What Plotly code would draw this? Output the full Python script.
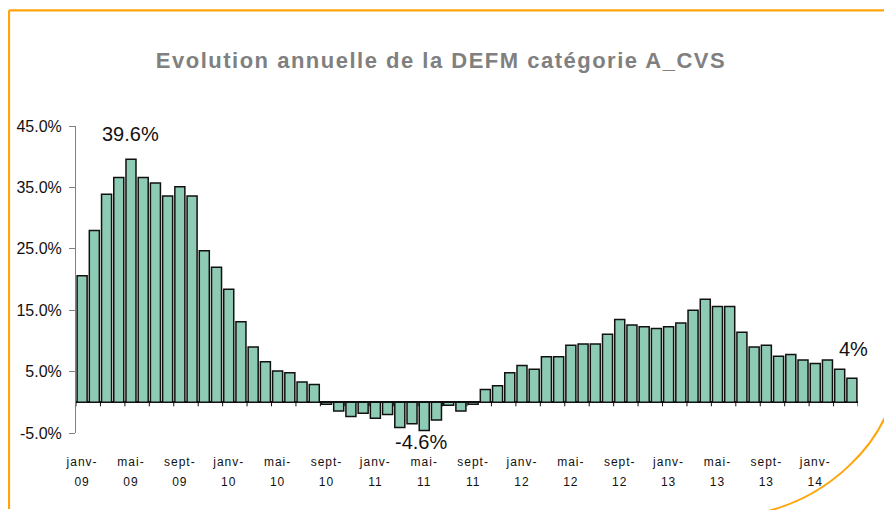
import plotly.graph_objects as go

# ---- data ----
months = ["janv", "févr", "mars", "avr", "mai", "juin", "juil", "août", "sept", "oct", "nov", "déc"]
years = ["09", "10", "11", "12", "13", "14"]
categories = [f"{m}-{y}" for y in years for m in months][:64]  # janv-09 .. avr-14

values = [
    20.6, 28.0, 33.9, 36.6, 39.6, 36.6, 35.7, 33.6, 35.1, 33.6, 24.7, 22.0,   # 2009
    18.4, 13.1, 9.0, 6.6, 5.1, 4.8, 3.3, 2.9, -0.3, -1.4, -2.3, -1.8,          # 2010
    -2.6, -2.0, -4.1, -3.5, -4.6, -2.9, -0.5, -1.4, -0.3, 2.1, 2.7, 4.8,       # 2011
    6.0, 5.4, 7.4, 7.4, 9.3, 9.5, 9.5, 11.1, 13.5, 12.6, 12.3, 12.0,           # 2012
    12.3, 12.9, 15.0, 16.8, 15.6, 15.6, 11.4, 9.0, 9.3, 7.5, 7.8, 6.9,         # 2013
    6.3, 6.9, 5.4, 3.9,                                                         # 2014
]

tick_months = ["janv-", "mai-", "sept-", "janv-", "mai-", "sept-", "janv-", "mai-",
               "sept-", "janv-", "mai-", "sept-", "janv-", "mai-", "sept-", "janv-"]
tick_years = ["09", "09", "09", "10", "10", "10", "11", "11", "11", "12", "12", "12",
              "13", "13", "13", "14"]
y_ticks = [-5, 5, 15, 25, 35, 45]
y_tick_labels = ["-5.0%", "5.0%", "15.0%", "25.0%", "35.0%", "45.0%"]

x = list(range(len(values)))

# ---- page geometry (the page body adds an 8px offset) ----
OFF = 8
W, H = 892 - OFF, 510 - OFF
PL, PR, PT, PB = 76, 858, 126, 433          # plot box in page pixels
ML, MR, MT, MB = PL - OFF, W - (PR - OFF), PT - OFF, H - (PB - OFF)
PW, PH = W - ML - MR, H - MT - MB


def px(xpage):
    return (xpage - OFF - ML) / PW


def py(ypage):
    return (H - MB - (ypage - OFF)) / PH


sp = "letter-spacing:1px;font-size:12px"
tick_labels = [f"<span style='{sp}'>{m}</span><br><span style='{sp}'>{y}</span>"
               for m, y in zip(tick_months, tick_years)]

fig = go.Figure()
fig.add_trace(go.Bar(
    x=x, y=values,
    marker=dict(color="#8ECBB5", line=dict(color="#111111", width=1.5)),
    hoverinfo="y",
))

shapes = []
# tick marks on the zero line, every two categories (between bars)
for k in range(0, len(values) + 1, 2):
    shapes.append(dict(type="line", xref="x", yref="y", ysizemode="pixel", yanchor=0,
                       x0=k - 0.5, x1=k - 0.5, y0=0, y1=-4,
                       line=dict(color="#111111", width=1)))

orange = "#FFA40A"
# orange page frame
shapes.append(dict(type="line", xref="paper", yref="paper",
                   x0=px(9), x1=px(893), y0=py(10.3), y1=py(10.3),
                   line=dict(color=orange, width=2.2)))
shapes.append(dict(type="line", xref="paper", yref="paper",
                   x0=px(9), x1=px(9), y0=py(10.3), y1=py(509),
                   line=dict(color=orange, width=2.2)))
arc = "M {},{} C {},{} {},{} {},{}".format(
    px(893), py(394), px(881), py(445), px(830), py(495), px(768), py(511))
shapes.append(dict(type="path", xref="paper", yref="paper", path=arc,
                   line=dict(color=orange, width=2)))

annotations = [
    dict(x=4, y=values[4], text="39.6%", showarrow=False, yanchor="middle",
         yshift=25, font=dict(size=20, color="#111111")),
    dict(x=28, y=values[28], text="-4.6%", showarrow=False, yanchor="middle",
         yshift=-11, xshift=-3, font=dict(size=20, color="#111111")),
    dict(x=63, y=values[63], text="4%", showarrow=False, yanchor="middle",
         yshift=29, xshift=2, font=dict(size=20, color="#111111")),
]

fig.update_layout(
    width=W, height=H,
    margin=dict(l=ML, r=MR, t=MT, b=MB, autoexpand=False),
    paper_bgcolor="white", plot_bgcolor="white",
    font=dict(family="Liberation Sans, Arial, sans-serif", color="#111111"),
    title=dict(text="<b><span style='letter-spacing:1.5px'>Evolution annuelle de la DEFM catégorie A_CVS</span></b>",
               x=(441 - OFF) / W, xanchor="center", y=1 - (60 - OFF) / H, yanchor="middle",
               font=dict(size=22, color="#808080")),
    bargap=0.18,
    showlegend=False,
    shapes=shapes,
    annotations=annotations,
    xaxis=dict(range=[-0.5, len(values) - 0.5], tickmode="array",
               tickvals=list(range(0, len(values), 4)), ticktext=tick_labels,
               ticks="", showline=False, showgrid=False, zeroline=False,
               ticklabelstandoff=17, tickfont=dict(size=15, color="#111111")),
    yaxis=dict(range=[-5, 45], tickmode="array", tickvals=y_ticks,
               ticktext=y_tick_labels, ticks="outside", ticklen=6,
               tickcolor="#808080", showline=True, linecolor="#808080",
               linewidth=1, showgrid=False, zeroline=True,
               zerolinecolor="#111111", zerolinewidth=1.5,
               ticklabelstandoff=4,
               tickfont=dict(size=16, color="#111111")),
)

fig.write_html("out.html")
